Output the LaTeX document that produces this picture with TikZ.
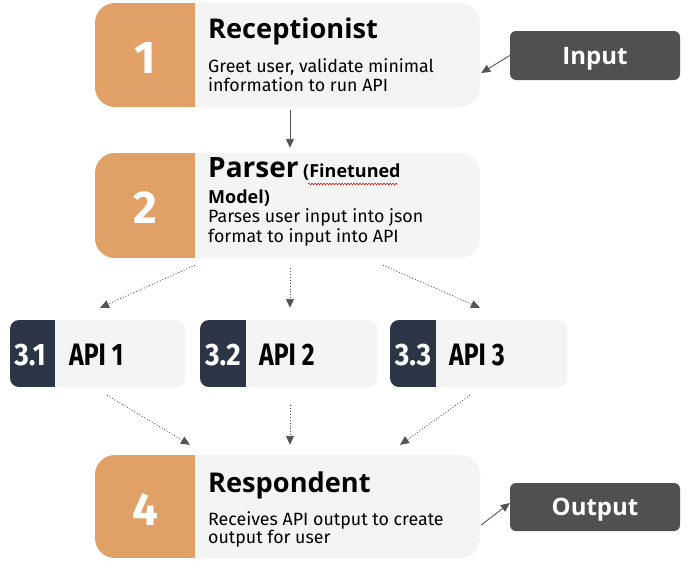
\documentclass[tikz,border=0pt]{standalone}
\usepackage{fontspec}
\setmainfont{Fira Sans}
\newfontfamily\titlefont{Open Sans}
\usetikzlibrary{arrows.meta,decorations.pathmorphing}
\definecolor{orng}{HTML}{E0A066}
\definecolor{lite}{HTML}{F3F5F4}
\definecolor{navy}{HTML}{2B3545}
\definecolor{dgray}{HTML}{505050}
\definecolor{agray}{HTML}{555555}
\begin{document}
\begin{tikzpicture}[x=1pt,y=-1pt,
  bigbox/.style={draw=none,fill=lite,rounded corners=20pt,minimum width=385pt,inner sep=0pt},
  apibox/.style={draw=none,fill=lite,rounded corners=9pt,minimum height=67pt,inner sep=0pt},
  iobox/.style={draw=none,fill=dgray,rounded corners=6pt,minimum width=170pt,inner sep=0pt,
     text=white,text depth=0pt,font=\titlefont\bfseries\fontsize{24}{24}\selectfont},
  numtxt/.style={anchor=base,text=white,font=\bfseries\fontsize{46}{46}\selectfont,inner sep=0pt},
  ttl/.style={anchor=base west,inner sep=0pt,font=\titlefont\bfseries\fontsize{27.2}{27}\selectfont},
  bodytxt/.style={anchor=base west,inner sep=0pt,font=\fontsize{17.8}{19}\selectfont},
  apinum/.style={anchor=base,inner sep=0pt,text=white,font=\bfseries\fontsize{31}{31}\selectfont},
  apilbl/.style={anchor=base west,inner sep=0pt,font=\bfseries\fontsize{31}{31}\selectfont},
  arr/.style={draw=agray,line width=0.9pt,-{Triangle[length=9pt,width=8pt]}},
  darr/.style={draw=agray,line width=0.9pt,dotted,-{Triangle[length=9pt,width=8pt]}}]
\useasboundingbox (0,0) rectangle (690,560);
\fill[white] (0,0) rectangle (690,560);

% ---- big boxes
\node[bigbox,minimum height=104pt] (b1) at (287.5,55) {};
\node[bigbox,minimum height=105pt] (b2) at (287.5,205.5) {};
\node[bigbox,minimum height=103pt] (b4) at (287.5,506.5) {};
\begin{scope}
  \clip[rounded corners=20pt] (95,3) rectangle (480,107);
  \fill[orng] (95,3) rectangle (195,107);
\end{scope}
\begin{scope}
  \clip[rounded corners=20pt] (95,153) rectangle (480,258);
  \fill[orng] (95,153) rectangle (195,258);
\end{scope}
\begin{scope}
  \clip[rounded corners=20pt] (95,455) rectangle (480,558);
  \fill[orng] (95,455) rectangle (195,558);
\end{scope}

% ---- box 1
\node[numtxt] (n1) at (145,73) {1};
\node[ttl] (t1) at (208,38) {Receptionist};
\node[bodytxt] (d1a) at (208,72) {Greet user, validate minimal};
\node[bodytxt] (d1b) at (208,91) {information to run API};

% ---- box 2
\node[numtxt] (n2) at (145,223) {2};
\node[ttl,font=\titlefont\bfseries\fontsize{28}{28}\selectfont] (t2) at (208,177) {Parser};
\node[anchor=base west,inner sep=0pt,font=\titlefont\bfseries\fontsize{18}{18}\selectfont] (t2b) at (303,177) {(Finetuned};
\node[anchor=base west,inner sep=0pt,font=\titlefont\bfseries\fontsize{18}{18}\selectfont] (t2c) at (208,203) {Model)};
\draw[red!80!black,line width=0.5pt,decorate,decoration={snake,amplitude=0.8pt,segment length=3pt}]
  (308,184) -- (398,184);
\node[bodytxt] (d2a) at (208,222) {Parses user input into json};
\node[bodytxt] (d2b) at (208,242) {format to input into API};

% ---- box 4
\node[numtxt] (n4) at (145,525) {4};
\node[ttl] (t4) at (208,492) {Respondent};
\node[bodytxt] (d4a) at (208,525) {Receives API output to create};
\node[bodytxt] (d4b) at (208,543) {output for user};

% ---- API boxes
\node[apibox,minimum width=175pt] (a1) at (97.5,353.5) {};
\node[apibox,minimum width=177pt] (a2) at (288.5,353.5) {};
\node[apibox,minimum width=177pt] (a3) at (478.5,353.5) {};
\begin{scope}
  \clip[rounded corners=9pt] (10,320) rectangle (185,387);
  \fill[navy] (10,320) rectangle (55,387);
\end{scope}
\begin{scope}
  \clip[rounded corners=9pt] (200,320) rectangle (377,387);
  \fill[navy] (200,320) rectangle (246,387);
\end{scope}
\begin{scope}
  \clip[rounded corners=9pt] (390,320) rectangle (567,387);
  \fill[navy] (390,320) rectangle (436,387);
\end{scope}
\node[apinum] (m1) at (30,365) {\scalebox{0.9}[1]{3.1}};
\node[apinum] (m2) at (223,365) {\scalebox{0.9}[1]{3.2}};
\node[apinum] (m3) at (413,365) {\scalebox{0.9}[1]{3.3}};
\node[apilbl] (l1) at (69,365) {\scalebox{0.8}[1]{API 1}};
\node[apilbl] (l2) at (259,365) {\scalebox{0.8}[1]{API 2}};
\node[apilbl] (l3) at (449,365) {\scalebox{0.8}[1]{API 3}};

% ---- input / output
\node[iobox,minimum height=49pt] (ip) at (595,55.5) {Input};
\node[iobox,minimum height=48pt] (op) at (595,507) {Output};

% ---- connectors
\draw[arr] (ip.west) -- ([xshift=1pt,yshift=-18pt]b1.east);
\draw[arr] ([xshift=2.5pt,yshift=-3pt]b1.south) -- ([xshift=2.5pt,yshift=5pt]b2.north);
\draw[darr] ([xshift=-92.5pt,yshift=-7pt]b2.south) -- ([xshift=2.5pt,yshift=12pt]a1.north);
\draw[darr] ([xshift=2.5pt,yshift=-10pt]b2.south) -- ([xshift=1.5pt,yshift=12pt]a2.north);
\draw[darr] ([xshift=95.5pt,yshift=-7pt]b2.south) -- ([xshift=1.5pt,yshift=12pt]a3.north);
\draw[darr] ([xshift=9.5pt,yshift=-8pt]a1.south) -- ([xshift=-97.5pt,yshift=10pt]b4.north);
\draw[darr] ([xshift=1.5pt,yshift=-18pt]a2.south) -- ([xshift=2.5pt,yshift=10pt]b4.north);
\draw[darr] ([xshift=-8.5pt,yshift=-8pt]a3.south) -- ([xshift=112.5pt,yshift=10pt]b4.north);
\draw[arr] ([xshift=1pt,yshift=-18.5pt]b4.east) -- ([yshift=4pt]op.west);
\end{tikzpicture}
\end{document}
